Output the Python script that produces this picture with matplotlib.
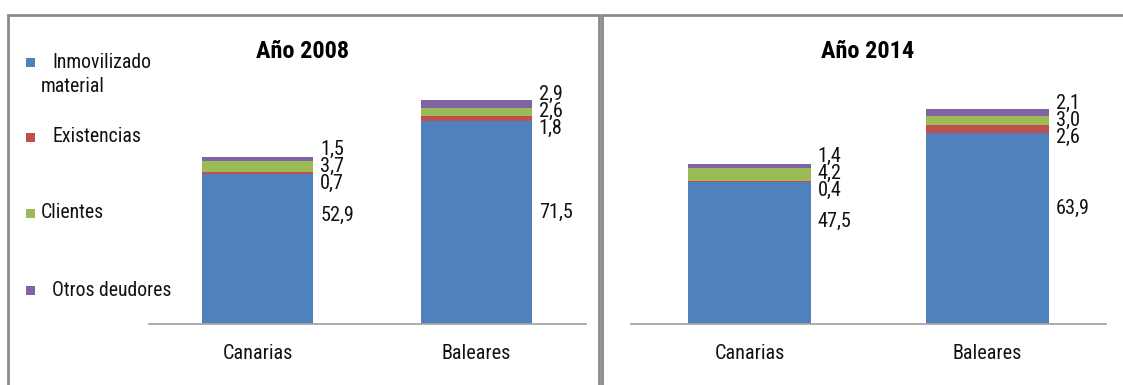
import matplotlib
matplotlib.use('Agg')
import matplotlib.pyplot as plt
from matplotlib.patches import Rectangle
from matplotlib import font_manager as fm

# ---------------- data ----------------
categories = ['Canarias', 'Baleares']
series_names = ['Inmovilizado material', 'Existencias', 'Clientes', 'Otros deudores']
titles = ['Año 2008', 'Año 2014']

inmovilizado_2008 = [52.9, 71.5]
existencias_2008 = [0.7, 1.8]
clientes_2008 = [3.7, 2.6]
otros_2008 = [1.5, 2.9]

inmovilizado_2014 = [47.5, 63.9]
existencias_2014 = [0.4, 2.6]
clientes_2014 = [4.2, 3.0]
otros_2014 = [1.4, 2.1]

# ---------------- style ----------------
colors = ['#4F81BD', '#C0504D', '#9BBB59', '#8064A2']

names = {f.name for f in fm.fontManager.ttflist}
narrow = None
for cand in ['Liberation Sans Narrow', 'Arial Narrow', 'Roboto Condensed', 'Open Sans Condensed']:
    if cand in names:
        narrow = cand
        break
if narrow:
    plt.rcParams['font.family'] = [narrow, 'DejaVu Sans']
    FS, LFS, TFS = 14.6, 14.2, 17.5
else:
    plt.rcParams['font.family'] = ['Liberation Sans', 'DejaVu Sans']
    FS, LFS, TFS = 12.5, 12.3, 14.5

W, H = 1123, 385
TEXT_C = '#111111'
FRAME_C = '#8a8a8a'
AXIS_C = '#a6a6a6'

panels = [
    dict(title=titles[0], series=[inmovilizado_2008, existencias_2008, clientes_2008, otros_2008],
         rect=[148.5, 324.3, 437.0, 294.3], ylim=103.4, width=0.508, title_x=303,
         blue_lift=[34, 10]),
    dict(title=titles[1], series=[inmovilizado_2014, existencias_2014, clientes_2014, otros_2014],
         rect=[630.6, 324.3, 475.6, 294.3], ylim=98.1, width=0.515, title_x=868,
         blue_lift=[32, 20]),
]


def fmt(v):
    return f'{v:.1f}'.replace('.', ',')


def spread(centers, gap):
    groups = [[c] for c in centers]
    changed = True
    while changed:
        changed = False
        for j in range(len(groups) - 1):
            a, b = groups[j], groups[j + 1]
            top_a = sum(a) / len(a) + (len(a) - 1) / 2 * gap
            bot_b = sum(b) / len(b) - (len(b) - 1) / 2 * gap
            if bot_b - top_a < gap:
                groups[j] = a + b
                del groups[j + 1]
                changed = True
                break
    out = []
    for g in groups:
        m = sum(g) / len(g)
        n = len(g)
        out += [m + (k - (n - 1) / 2) * gap for k in range(n)]
    return out


fig = plt.figure(figsize=(W / 100, H / 100), dpi=100)

# panel frames
fig.add_artist(Rectangle((8 / W, -0.2), (599 - 8) / W, 1 - 15 / H + 0.2,
                         transform=fig.transFigure, fill=False, edgecolor=FRAME_C, lw=2))
fig.add_artist(Rectangle((601.5 / W, -0.2), (1140 - 601.5) / W, 1 - 15 / H + 0.2,
                         transform=fig.transFigure, fill=False, edgecolor=FRAME_C, lw=2))

for p in panels:
    x0, yb, w, h = p['rect']
    ax = fig.add_axes([x0 / W, (H - yb) / H, w / W, h / H])
    ax.set_xlim(-0.5, len(categories) - 0.5)
    ax.set_ylim(0, p['ylim'])
    xs = list(range(len(categories)))
    bottoms = [0.0] * len(categories)
    for s, vals in enumerate(p['series']):
        ax.bar(xs, vals, p['width'], bottom=bottoms, color=colors[s],
               edgecolor='none', zorder=2)
        bottoms = [b + v for b, v in zip(bottoms, vals)]
    for sp in ['left', 'right', 'top']:
        ax.spines[sp].set_visible(False)
    ax.spines['bottom'].set_color(AXIS_C)
    ax.spines['bottom'].set_linewidth(1.3)
    ax.set_yticks([])
    ax.set_xticks(xs)
    ax.set_xticklabels(categories, fontsize=FS, color=TEXT_C)
    ax.tick_params(axis='x', length=0, pad=14)
    ax.patch.set_alpha(0)

    # value labels
    for i in xs:
        vals = [ser[i] for ser in p['series']]
        cum = 0.0
        centers_px = []
        for v in vals:
            centers_px.append(ax.transData.transform((i, cum + v / 2))[1])
            cum += v
        pos = spread(centers_px, 17)
        for k, (v, ypx) in enumerate(zip(vals, pos)):
            if k == 0:
                ypx = ypx + p['blue_lift'][i]
            yd = ax.transData.inverted().transform((0, ypx))[1]
            ax.annotate(fmt(v), xy=(i + p['width'] / 2, yd), xytext=(7, 0),
                        textcoords='offset pixels', ha='left', va='center',
                        fontsize=FS, color=TEXT_C, annotation_clip=False)

    fig.text(p['title_x'] / W, 1 - 52 / H, p['title'], ha='center', va='center',
             fontsize=TFS, fontweight='bold', color='black')

# legend (left panel)
legend_y = [62, 137, 213, 290]
for s, name in enumerate(series_names):
    y = legend_y[s]
    fig.add_artist(Rectangle((26 / W, 1 - (y + 4.5) / H), 9 / W, 9 / H,
                             transform=fig.transFigure, facecolor=colors[s], edgecolor='none'))
    if s == 0:
        first, second = name.split(' ', 1)
        fig.text(52 / W, 1 - y / H, first, ha='left', va='center', fontsize=LFS, color=TEXT_C)
        fig.text(41 / W, 1 - (y + 24.7) / H, second, ha='left', va='center', fontsize=LFS, color=TEXT_C)
    elif s == 2:
        fig.text(41 / W, 1 - y / H, name, ha='left', va='center', fontsize=LFS, color=TEXT_C)
    else:
        fig.text(52 / W, 1 - y / H, name, ha='left', va='center', fontsize=LFS, color=TEXT_C)

fig.savefig('out.png', dpi=100)
